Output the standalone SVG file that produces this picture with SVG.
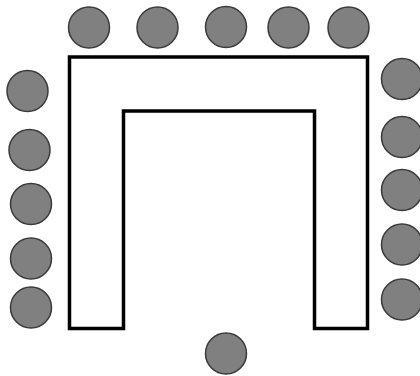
<svg xmlns="http://www.w3.org/2000/svg" width="420" height="376" viewBox="0 0 420 376">
<style>
.seat{fill:#808080;stroke:#3a3a3a;stroke-width:1.5}
.table{fill:#fff;stroke:#000;stroke-width:3.5;stroke-linejoin:miter}
</style>
<rect width="420" height="376" fill="#fff"/>
<g id="table">
<path class="table" d="M69.5,328.5 V57 H367.5 V328.5 H314.5 V111 H123.5 V328.5 Z"/>
</g>
<g id="seats-top">
<circle id="t1" class="seat" cx="89" cy="27.5" r="20.5"/>
<circle id="t2" class="seat" cx="157.5" cy="27.5" r="20.5"/>
<circle id="t3" class="seat" cx="226" cy="27" r="20.5"/>
<circle id="t4" class="seat" cx="288.5" cy="27.5" r="20.5"/>
<circle id="t5" class="seat" cx="348.5" cy="27.5" r="20.5"/>
</g>
<g id="seats-left">
<circle id="l1" class="seat" cx="27.5" cy="91" r="20.5"/>
<circle id="l2" class="seat" cx="29.5" cy="150" r="20.5"/>
<circle id="l3" class="seat" cx="31" cy="204" r="20.5"/>
<circle id="l4" class="seat" cx="31" cy="258.5" r="20.5"/>
<circle id="l5" class="seat" cx="31" cy="307.5" r="20.5"/>
</g>
<g id="seats-right">
<circle id="r1" class="seat" cx="402" cy="79" r="20.5"/>
<circle id="r2" class="seat" cx="402" cy="137" r="20.5"/>
<circle id="r3" class="seat" cx="402" cy="190" r="20.5"/>
<circle id="r4" class="seat" cx="402" cy="244.5" r="20.5"/>
<circle id="r5" class="seat" cx="402" cy="299.5" r="20.5"/>
</g>
<g id="seat-bottom">
<circle id="b1" class="seat" cx="226" cy="353.5" r="20.5"/>
</g>
<g id="connectors"/>
</svg>
